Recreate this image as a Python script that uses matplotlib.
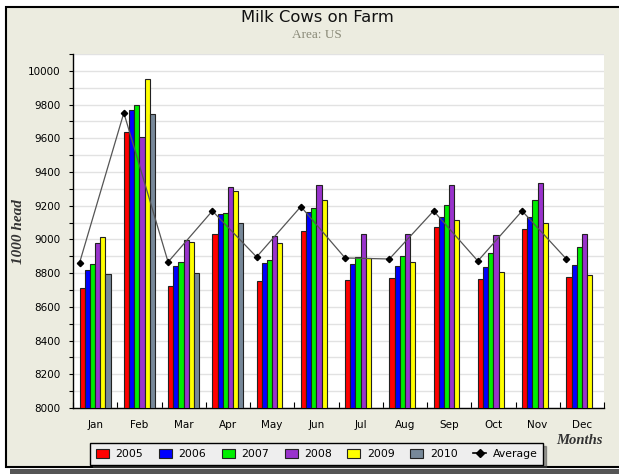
import numpy as np
import matplotlib.pyplot as plt
from matplotlib.patches import Rectangle
from matplotlib.lines import Line2D

months = ['Jan', 'Feb', 'Mar', 'Apr', 'May', 'Jun', 'Jul', 'Aug', 'Sep', 'Oct', 'Nov', 'Dec']
years = ['2005', '2006', '2007', '2008', '2009', '2010']
nan = np.nan

# 1000 head per month
y2005 = [8710, 9638, 8724, 9035, 8756, 9050, 8762, 8773, 9074, 8767, 9062, 8779]
y2006 = [8819, 9767, 8841, 9151, 8861, 9161, 8853, 8841, 9131, 8834, 9131, 8847]
y2007 = [8853, 9798, 8866, 9155, 8877, 9185, 8896, 8902, 9205, 8922, 9234, 8957]
y2008 = [8979, 9606, 8995, 9312, 9019, 9322, 9033, 9033, 9322, 9027, 9335, 9033]
y2009 = [9013, 9953, 8983, 9286, 8977, 9231, 8888, 8866, 9117, 8805, 9097, 8791]
y2010 = [8793, 9743, 8799, 9096, nan, nan, nan, nan, nan, nan, nan, nan]
average = [8862, 9751, 8866, 9169, 8896, 9195, 8890, 8884, 9169, 8872, 9169, 8884]

series = [y2005, y2006, y2007, y2008, y2009, y2010]
colors = ['#ff0000', '#0000ff', '#00ee00', '#9933cc', '#ffff00', '#778899']

bg = '#ecece0'
serif = 'Liberation Serif'
fig = plt.figure(figsize=(6.19, 4.74), dpi=100)
fig.patch.set_facecolor('white')

# outer frame with shadow (behind the axes)
fig.patches.append(Rectangle((10 / 619, 0), 1.0, 1 - 469 / 474, transform=fig.transFigure,
                             facecolor='#555555', edgecolor='none', zorder=-3))
fig.patches.append(Rectangle((5.5 / 619, 1 - 467 / 474), 1.0, (467 - 6.5) / 474,
                             transform=fig.transFigure, facecolor=bg, edgecolor='black',
                             linewidth=1.5, zorder=-2))

ax = fig.add_axes([73 / 619, 1 - 408 / 474, (604 - 73) / 619, (408 - 54) / 474])
ax.set_facecolor('white')

x = np.arange(len(months))
bw = 0.117
for i, (vals, c) in enumerate(zip(series, colors)):
    ax.bar(x + (i - 2.5) * bw, np.array(vals) - 8000, bottom=8000, width=bw,
           color=c, edgecolor='#222222', linewidth=0.8, zorder=3)

# the average points sit at the left edge of each group
ax.plot(x - 3 * bw, average, color='#555555', linewidth=0.9, marker='D', markersize=3.2,
        markerfacecolor='black', markeredgecolor='black', zorder=4)

ax.set_xlim(-0.5, 11.5)
ax.set_ylim(8000, 10100)
ax.set_yticks(np.arange(8000, 10001, 200))
ax.set_yticks(np.arange(8100, 10101, 200), minor=True)
ax.yaxis.grid(True, which='both', color='#e2e2e2', linewidth=1.0, zorder=0)
ax.set_axisbelow(True)
ax.tick_params(axis='y', which='both', direction='out', length=3, width=0.8,
               labelsize=7.5, pad=6)

ax.set_xticks(x)
ax.set_xticklabels(months)
ax.set_xticks(np.arange(-0.5, 12, 1), minor=True)
ax.tick_params(axis='x', which='major', length=0, labelsize=7.5, pad=9)
ax.tick_params(axis='x', which='minor', direction='in', length=4, width=0.8)

for s in ['top', 'right']:
    ax.spines[s].set_visible(False)
for s in ['left', 'bottom']:
    ax.spines[s].set_linewidth(1.0)

fig.text(317.5 / 619, 1 - 18 / 474, 'Milk Cows on Farm', ha='center', va='center',
         fontsize=11.8, color='#111111')
fig.text(317 / 619, 1 - 35 / 474, 'Area: US', ha='center', va='center',
         fontsize=9.5, color='#8a8a78', family=serif)
fig.text(18 / 619, 1 - 232 / 474, '1000 head', rotation=90, ha='center', va='center',
         fontsize=11, style='italic', weight='bold', family=serif, color='#333333')
fig.text(603 / 619, 1 - 440 / 474, 'Months', ha='right', va='center',
         fontsize=10.5, style='italic', weight='bold', family=serif, color='#333333')

handles = [Rectangle((0, 0), 1, 1, facecolor=c, edgecolor='#222222', linewidth=0.8)
           for c in colors]
handles.append(Line2D([], [], color='black', marker='D', markersize=4, linewidth=1.2))
labels = years + ['Average']
leg = fig.legend(handles, labels, loc='center', ncol=7,
                 bbox_to_anchor=(316.7 / 619, 1 - 454 / 474), fontsize=7.8,
                 frameon=True, fancybox=False, shadow=True, handlelength=1.2,
                 handleheight=1.0, handletextpad=0.6, columnspacing=1.45,
                 borderpad=0.5, edgecolor='black', facecolor='#eeeeee', framealpha=1)
leg.get_frame().set_linewidth(1.0)

fig.savefig('out.png', dpi=100, facecolor=fig.get_facecolor())
